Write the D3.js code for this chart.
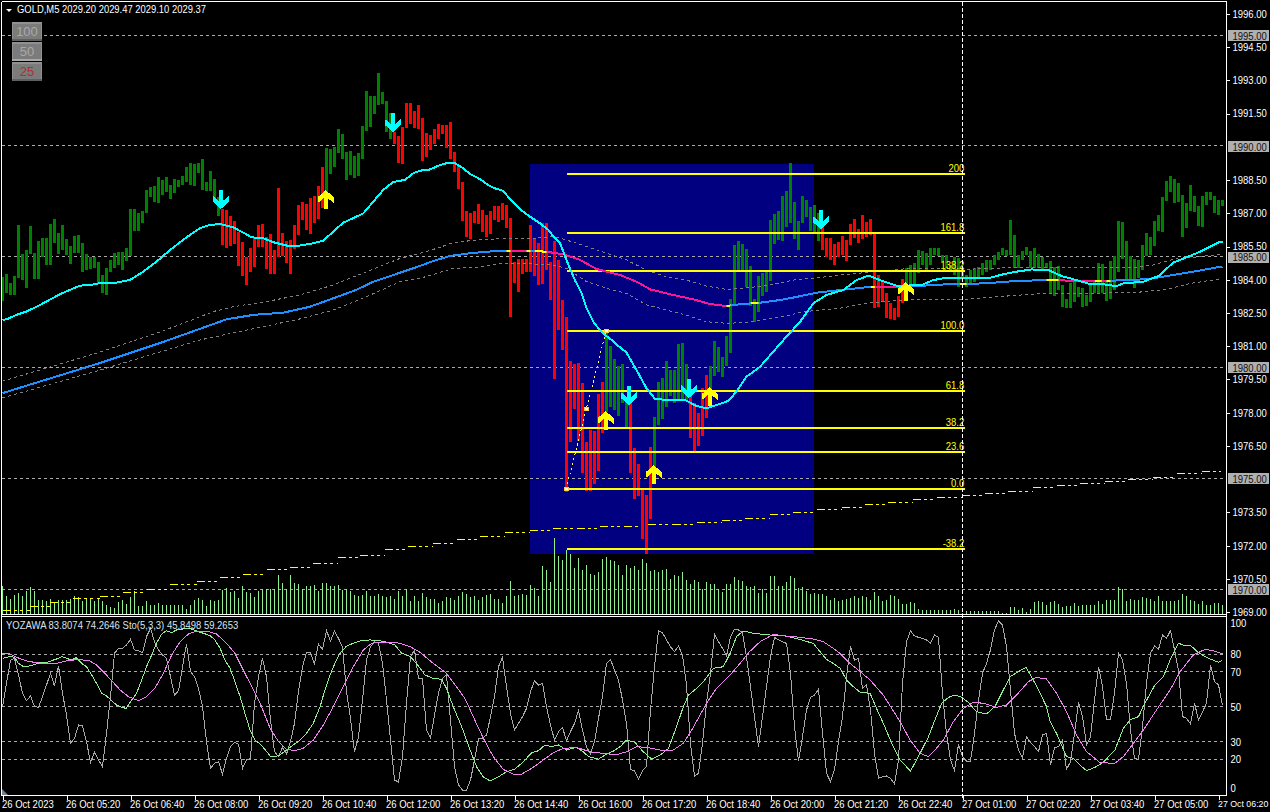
<!DOCTYPE html>
<html><head><meta charset="utf-8"><title>GOLD,M5</title>
<script src="https://cdn.jsdelivr.net/npm/d3@7"></script>
<style>html,body{margin:0;padding:0;background:#000;overflow:hidden}svg{display:block}text{font-family:"Liberation Sans",Arial,sans-serif;font-size:9.5px}</style>
</head><body><svg id="c" width="1270" height="812"></svg>
<script>
// ---------- DATA (prices, bar indices, oscillator values) ----------
const title = "GOLD,M5  2029.20 2029.47 2029.10 2029.37";
const subTitle = "YOZAWA 83.8074 74.2646  Sto(5,3,3) 45.8498 59.2653";
const buttons = ["100","50","25"];
const priceTicks = [1996,1995,1994.5,1993,1991.5,1990,1988.5,1987,1985.5,1985,1984,1982.5,1981,1980,1979.5,1978,1976.5,1975,1973.5,1972,1970.5,1970,1969];
const priceGrid = [1995,1990,1985,1980,1975,1970];
const oscTicks = [100,80,70,50,30,20,0];
const oscGrid = [80,70,50,30,20];
const timeTickBars = [0,16,32,48,64,80,96,112,128,144,160,176,192,208,224,240,256,272,288,304];
const timeTickLabels = ["26 Oct 2023","26 Oct 05:20","26 Oct 06:40","26 Oct 08:00","26 Oct 09:20","26 Oct 10:40","26 Oct 12:00","26 Oct 13:20","26 Oct 14:40","26 Oct 16:00","26 Oct 17:20","26 Oct 18:40","26 Oct 20:00","26 Oct 21:20","26 Oct 22:40","27 Oct 01:00","27 Oct 02:20","27 Oct 03:40","27 Oct 05:00","27 Oct 06:20"];
const crosshairBar = 240;
const bearRanges = [[55,80],[98,150],[157,162],[172,176],[205,225]];
// [high, low] per bar
const barHighLow = [[1984.07,1983.01],[1984.22,1983.34],[1983.83,1983.27],[1984.13,1983.27],[1986.43,1984.02],[1985.12,1983.95],[1985.30,1983.60],[1986.38,1985.12],[1985.15,1984.01],[1985.72,1984.01],
[1985.84,1985.00],[1985.84,1984.62],[1986.47,1984.62],[1986.70,1985.60],[1986.08,1985.12],[1986.43,1985.30],[1985.81,1985.07],[1985.48,1984.67],[1985.93,1985.15],[1985.98,1985.15],
[1985.60,1984.32],[1985.12,1984.40],[1984.97,1984.43],[1984.97,1984.47],[1984.76,1983.80],[1984.17,1983.37],[1984.49,1983.27],[1984.85,1984.32],[1985.18,1984.49],[1985.21,1984.62],
[1985.21,1984.40],[1985.39,1984.82],[1987.15,1985.03],[1987.15,1986.17],[1986.95,1986.17],[1987.07,1986.53],[1988.01,1986.95],[1988.16,1987.68],[1988.19,1987.47],[1988.61,1987.44],
[1988.46,1987.78],[1988.61,1987.93],[1988.23,1987.60],[1988.50,1987.86],[1988.46,1988.13],[1988.64,1988.23],[1989.06,1988.38],[1989.24,1988.23],[1989.18,1988.19],[1989.24,1988.79],
[1989.39,1988.01],[1988.38,1987.98],[1988.88,1987.98],[1988.50,1987.56],[1987.71,1986.83],[1987.13,1985.53],[1987.10,1985.41],[1986.83,1985.48],[1986.62,1985.57],[1986.13,1984.59],
[1985.66,1984.14],[1984.97,1983.72],[1985.38,1984.32],[1985.87,1984.55],[1986.43,1985.45],[1986.47,1985.45],[1985.90,1984.44],[1986.02,1984.22],[1985.30,1984.22],[1988.10,1985.00],
[1986.05,1985.03],[1985.72,1984.73],[1985.75,1984.22],[1986.43,1985.36],[1987.33,1985.98],[1987.48,1986.65],[1987.38,1986.20],[1987.63,1986.02],[1987.74,1986.53],[1988.19,1986.70],
[1989.06,1987.18],[1989.92,1987.93],[1989.86,1988.73],[1989.96,1989.06],[1990.74,1989.69],[1990.53,1989.39],[1989.72,1988.46],[1989.77,1988.70],[1989.54,1988.55],[1989.66,1988.64],
[1990.89,1989.42],[1992.49,1990.68],[1992.25,1990.86],[1992.25,1991.44],[1993.27,1991.84],[1992.43,1991.89],[1992.01,1990.64],[1991.47,1990.31],[1990.64,1990.08],[1990.44,1989.21],
[1990.86,1989.18],[1991.92,1990.82],[1991.92,1990.99],[1991.56,1990.79],[1991.83,1990.74],[1991.25,1989.31],[1990.59,1989.49],[1990.49,1989.81],[1990.76,1990.08],[1990.98,1990.31],
[1990.94,1990.53],[1990.94,1989.91],[1991.07,1989.40],[1989.72,1988.82],[1989.09,1988.05],[1988.37,1986.61],[1987.06,1985.88],[1986.97,1985.79],[1987.06,1986.52],[1987.37,1986.47],
[1987.10,1986.11],[1986.88,1985.88],[1987.06,1986.02],[1987.28,1986.65],[1987.28,1986.56],[1987.42,1986.65],[1987.33,1986.29],[1986.74,1982.27],[1984.76,1983.81],[1984.89,1983.40],
[1984.89,1984.21],[1984.89,1984.30],[1986.43,1984.30],[1985.84,1984.12],[1985.61,1983.72],[1986.52,1983.76],[1986.52,1984.39],[1984.76,1983.04],[1985.70,1979.48],[1984.85,1981.69],
[1983.04,1980.79],[1982.27,1974.39],[1980.29,1976.64],[1980.15,1978.12],[1980.20,1976.70],[1979.30,1975.24],[1976.64,1974.42],[1977.18,1974.42],[1977.13,1974.74],[1978.80,1975.33],
[1979.34,1977.04],[1981.60,1978.00],[1980.97,1978.23],[1980.38,1978.08],[1980.06,1977.81],[1980.15,1978.38],[1978.53,1977.31],[1978.38,1975.24],[1976.36,1974.06],[1975.64,1974.20],
[1974.47,1972.26],[1974.24,1971.58],[1976.41,1973.16],[1977.76,1974.77],[1979.34,1977.40],[1979.52,1977.67],[1980.29,1978.21],[1979.88,1978.71],[1979.88,1978.38],[1981.06,1978.56],
[1981.10,1978.53],[1980.15,1978.53],[1978.76,1976.82],[1978.38,1976.23],[1977.94,1976.45],[1979.07,1976.91],[1979.66,1977.72],[1980.06,1978.68],[1981.19,1979.61],[1980.92,1979.79],
[1980.47,1979.57],[1981.42,1980.06],[1983.09,1980.65],[1985.52,1982.82],[1985.70,1984.39],[1985.57,1984.39],[1985.34,1983.63],[1984.58,1982.77],[1983.09,1982.05],[1984.12,1982.50],
[1984.24,1983.22],[1984.39,1983.40],[1986.65,1983.91],[1986.92,1985.57],[1987.06,1985.75],[1987.73,1985.70],[1987.96,1986.33],[1989.24,1986.52],[1987.46,1985.79],[1986.61,1985.30],
[1987.73,1986.52],[1987.55,1986.79],[1987.24,1986.15],[1987.33,1986.05],[1986.95,1985.70],[1986.43,1985.30],[1985.84,1984.98],[1985.84,1984.85],[1985.57,1984.62],[1985.66,1984.98],
[1985.93,1985.07],[1985.75,1984.82],[1986.47,1985.52],[1986.70,1985.82],[1986.23,1985.60],[1986.88,1985.78],[1986.58,1985.87],[1986.68,1985.97],[1986.12,1982.66],[1984.17,1982.74],
[1983.94,1982.97],[1983.34,1982.21],[1982.89,1982.18],[1982.66,1982.14],[1983.22,1982.29],[1983.97,1982.89],[1984.47,1983.57],[1984.62,1983.72],[1984.70,1983.72],[1985.30,1984.27],
[1985.27,1984.62],[1985.15,1984.39],[1985.39,1984.62],[1985.39,1985.07],[1985.39,1985.03],[1985.07,1984.77],[1985.07,1984.47],[1984.62,1984.39],[1985.00,1984.17],[1984.92,1983.64],
[1984.54,1984.02],[1984.17,1983.61],[1984.39,1983.79],[1984.47,1983.87],[1984.54,1984.06],[1984.73,1984.17],[1984.85,1984.32],[1984.85,1984.39],[1985.07,1984.62],[1985.22,1984.85],
[1985.39,1985.07],[1985.30,1985.03],[1986.65,1985.07],[1985.97,1984.47],[1985.07,1984.47],[1985.27,1984.85],[1985.42,1985.07],[1985.27,1984.47],[1985.39,1984.47],[1985.12,1984.47],
[1985.00,1984.39],[1984.70,1984.47],[1984.82,1983.31],[1984.54,1983.22],[1984.57,1983.49],[1983.72,1982.74],[1983.07,1982.66],[1983.79,1982.66],[1983.87,1982.97],[1983.64,1983.19],
[1983.57,1982.74],[1983.27,1982.79],[1983.76,1982.97],[1983.94,1983.34],[1984.73,1983.34],[1984.67,1983.34],[1983.94,1983.01],[1984.82,1983.07],[1985.03,1983.49],[1986.61,1984.32],
[1986.55,1984.88],[1985.70,1983.94],[1985.03,1983.94],[1984.88,1983.57],[1984.85,1984.02],[1985.52,1984.39],[1986.05,1985.03],[1985.87,1985.07],[1986.61,1985.48],[1986.88,1986.17],
[1987.70,1986.12],[1988.41,1987.52],[1988.64,1987.93],[1988.50,1987.43],[1988.30,1987.48],[1987.78,1985.90],[1987.40,1986.27],[1988.23,1987.06],[1987.73,1987.00],[1987.28,1986.38],
[1987.73,1986.35],[1987.93,1987.33],[1987.93,1987.55],[1987.73,1986.98],[1987.55,1986.88],[1987.55,1987.28]];
const volumes = [85,53,45,58,63,53,68,81,68,43,43,38,45,35,41,41,41,45,55,51,38,45,45,38,45,38,28,21,18,35,41,31,51,68,23,23,38,28,28,33,28,28,28,28,28,28,15,28,41,48,43,23,43,38,43,73,78,65,68,48,85,65,63,51,68,75,75,75,75,118,93,75,118,93,91,75,83,83,88,68,93,93,83,83,88,73,75,68,58,55,58,68,55,53,61,53,51,55,45,68,55,75,38,53,38,
62,52,45,45,32,39,51,47,42,54,66,60,51,54,42,51,57,60,45,45,
33,55,98,55,57,61,58,88,78,53,145,131,95,228,175,163,191,181,139,169,133,148,121,118,125,166,172,163,160,148,118,148,138,145,131,166,153,128,133,126,131,136,106,118,115,125,103,91,103,95,76,95,91,91,76,65,91,91,112,103,100,83,80,83,64,75,64,115,115,83,85,96,115,109,79,81,70,61,63,61,61,55,43,48,40,
43,45,49,55,48,55,51,43,67,55,38,43,58,53,45,30,30,36,33,15,13,13,13,13,11,11,13,11,15,11,3,8,8,8,8,10,8,8,10,8,4,4,21,21,13,17,5,15,35,38,35,28,36,40,30,22,23,25,33,25,28,26,27,26,39,30,43,41,41,81,75,40,45,43,43,51,48,45,38,55,39,39,39,39,43,61,53,43,39,29,39,26,26,33,33,28];
const maFast = [[0,1982.14],[1,1982.17],[3.5,1982.37],[6,1982.52],[8.5,1982.74],[11,1982.97],[14.4,1983.31],[17.3,1983.53],[19.4,1983.69],[21.9,1983.72],[24.4,1983.80],[27.7,1983.80],[31.9,1983.95],[35.2,1984.32],[38.5,1984.77],[41.9,1985.30],[46,1985.87],[49.4,1986.28],[51.9,1986.43],[54.4,1986.47],[57.7,1986.32],[60.2,1986.08],[62.3,1985.87],[65.2,1985.83],[67.7,1985.65],[71,1985.50],[74.4,1985.50],[77.7,1985.60],[80.2,1985.72],[82.7,1986.13],[85.2,1986.53],[90.2,1986.95],[92.7,1987.48],[95.2,1988.01],[97.7,1988.37],[100.6,1988.46],[102.7,1988.76],[104.4,1988.88],[106.5,1988.91],[109.4,1989.13],[111.5,1989.24],[113.1,1989.21],[114.8,1989.03],[116.9,1988.73],[119.4,1988.49],[121.5,1988.22],[123.1,1988.08],[125.2,1987.97],[126.9,1987.58],[129.4,1987.13],[131.9,1986.80],[134.4,1986.50],[136.5,1986.20],[137.7,1985.90],[139.4,1985.60],[140.2,1985.22],[141.5,1984.62],[143.1,1983.94],[144.8,1983.34],[146,1982.67],[147.7,1982.06],[149,1981.76],[150.6,1981.46],[152.3,1981.24],[153.1,1981.09],[156,1980.67],[158.5,1979.88],[161,1979.06],[163.1,1978.58],[166,1978.53],[170.6,1978.53],[173.5,1978.26],[176,1978.15],[178.5,1978.30],[181.5,1978.49],[183.5,1978.91],[186,1979.58],[189.4,1980.03],[192.7,1980.71],[196,1981.39],[199.4,1982.06],[202.7,1982.89],[206,1983.27],[210.2,1983.49],[213.5,1983.94],[216.5,1984.14],[219.4,1983.94],[223.5,1983.69],[226,1983.69],[229.8,1983.72],[232.7,1983.94],[236,1984.05],[241,1984.05],[246.9,1984.05],[250.2,1984.20],[253.5,1984.32],[257.3,1984.42],[261.5,1984.39],[264.8,1984.12],[268.5,1983.94],[271.9,1983.76],[275.2,1983.75],[278.5,1983.67],[280.6,1983.82],[284.8,1983.84],[289,1984.12],[292.7,1984.73],[296,1984.97],[299.4,1985.22],[304.4,1985.67],[305,1985.67]];
const maSlow = [[0,1978.84],[24.4,1980.20],[39.4,1981.10],[56,1982.17],[62.7,1982.37],[70.2,1982.47],[76.9,1982.74],[82.7,1983.12],[88.5,1983.50],[92.7,1983.87],[97.7,1984.17],[104.4,1984.58],[107.7,1984.80],[111.9,1985.03],[116.9,1985.15],[121,1985.22],[126,1985.27],[131,1985.27],[136,1985.22],[140.2,1985.10],[144.4,1984.85],[148.5,1984.44],[154.4,1984.17],[158.5,1983.87],[161.9,1983.52],[166.9,1983.30],[172.7,1983.07],[176.9,1982.86],[181,1982.77],[184.4,1982.85],[189.4,1982.92],[194.4,1983.04],[198.5,1983.18],[203.5,1983.37],[209.4,1983.49],[217.3,1983.64],[223.5,1983.61],[228.5,1983.67],[236.9,1983.76],[245.2,1983.79],[253.5,1983.90],[261,1983.94],[268.5,1983.91],[276,1983.91],[282.7,1983.94],[287.7,1984.02],[292.7,1984.17],[297.7,1984.32],[304.4,1984.54],[305,1984.55]];
const maSlowDownRanges = [[127,131],[136,181],[218.1,224.4],[264,273.1],[274.8,276]];
const maSlowFlatRanges = [[126,127],[131,132],[133.1,136],[181,182],[187.1,189],[217.1,218.1],[239.4,241],[261,264],[273.1,274.8],[276,277]];
const bandUpper = [[0,1979.38],[24.4,1980.69],[39.4,1981.60],[48.5,1982.22],[52.7,1982.52],[57.7,1982.74],[66,1982.97],[74.4,1983.27],[82.7,1983.72],[91,1984.32],[99.4,1984.92],[104.4,1985.15],[108.5,1985.37],[112.7,1985.63],[118.5,1985.75],[126,1985.82],[131.9,1985.82],[137.7,1985.90],[141,1985.75],[146,1985.45],[151,1985.15],[156,1984.85],[161,1984.39],[166,1984.09],[171,1983.94],[176,1983.67],[181,1983.52],[184.4,1983.57],[188.5,1983.64],[192.7,1983.76],[197.7,1983.94],[204.4,1984.06],[209.4,1984.17],[215.2,1984.27],[226.9,1984.47],[240.2,1984.42],[252.7,1984.51],[268.5,1984.51],[282.7,1984.51],[287.7,1984.62],[292.7,1984.88],[299.4,1985.00],[304.4,1985.10]];
const bandLower = [[0,1978.62],[24.4,1979.88],[49.4,1981.24],[75.2,1982.22],[82.7,1982.59],[91,1983.19],[99.4,1983.87],[104.4,1984.02],[108.5,1984.24],[112.7,1984.47],[118.5,1984.52],[123.5,1984.67],[132.7,1984.67],[137.7,1984.62],[141,1984.47],[146,1983.87],[151,1983.57],[156,1983.34],[161,1982.82],[166,1982.59],[171,1982.36],[176,1982.06],[181,1981.99],[185.2,1982.02],[190.2,1982.14],[195.2,1982.29],[200.2,1982.51],[209.4,1982.67],[216,1982.89],[224.4,1983.04],[240.2,1983.07],[257.7,1983.31],[268.5,1983.34],[282.7,1983.37],[291,1983.52],[296.9,1983.79],[304.4,1983.99]];
const maLong = [[0,1969.05],[6.9,1969.23],[11.9,1969.37],[17.6,1969.55],[24.4,1969.68],[30.1,1969.86],[36.1,1970.00],[41.9,1970.22],[48.6,1970.36],[54.4,1970.54],[60.1,1970.67],[66.1,1970.86],[71.9,1970.99],[77.6,1971.17],[83.9,1971.40],[89.4,1971.53],[95.6,1971.76],[101.4,1971.94],[107.6,1972.07],[113.6,1972.25],[119.4,1972.39],[125.6,1972.53],[131.9,1972.65],[137.6,1972.71],[143.6,1972.75],[149.4,1972.80],[155.4,1972.84],[161.4,1972.89],[167.6,1972.93],[173.6,1973.02],[179.9,1973.11],[185.6,1973.20],[191.9,1973.38],[197.6,1973.47],[203.6,1973.61],[209.9,1973.70],[215.6,1973.83],[221.4,1973.92],[227.6,1974.06],[233.6,1974.15],[239.9,1974.24],[245.6,1974.33],[251.4,1974.42],[257.6,1974.56],[263.6,1974.65],[269.4,1974.74],[275.6,1974.83],[281.4,1974.92],[287.6,1975.01],[293.6,1975.19],[299.9,1975.28],[304.6,1975.32]];
const fibLevels = ["200","161.8","138.2","100.0","61.8","38.2","23.6","0.0","-38.2"];
const fibPrices = [1988.74,1986.05,1984.35,1981.64,1978.92,1977.25,1976.20,1974.51,1971.80];
const fibStartBar = 141, fibEndBar = 240.7;
const boxBars = [131.8,202.75], boxPrices = [1989.20,1971.60];
const fibTrendBars = [140.9,145.9,150.9], fibTrendPrices = [1974.51,1978.08,1981.64];
const downArrows = [[54.6,1987.15],[97.6,1990.62],[156.6,1978.30],[171.6,1978.62],[204.6,1986.24]];
const upArrows = [[80.8,1988.00],[150.8,1978.03],[162.8,1975.59],[176.8,1979.11],[225.8,1983.85]];
const stochRaw = [50.1,63.4,76.7,77.7,68.2,57.7,53.5,56.2,50.1,49.7,55.8,62.5,69.1,61.9,73.3,57.7,45.3,29.1,32,39.6,39.2,30.1,18.3,24,19.6,15.8,34.8,55.8,80.6,83.4,83.4,85.3,88.6,82.5,82.1,80.9,90.1,94.8,87.2,82.5,79.6,77.7,67.2,56.7,59.2,72.9,85.9,70.1,67.2,60.6,50.1,30.1,14.8,17.7,18.6,11.6,20.6,27.2,29.7,28.7,14.8,19.6,20.6,52,67.2,77.7,67.2,42.5,24.4,21.5,26.8,23,30.1,40.6,58.7,72.9,80.9,80.9,74.5,85.9,82.8,93.5,87.6,93.3,89.1,84,58.7,43.4,24,32.9,53.9,76.7,84.4,87.2,86.3,74.8,53.9,31,8.2,7,21.5,52,78.7,82.5,66.3,
66.2,36.7,32,45.3,57.7,66.2,68.2,42.4,15.8,5.3,2.4,2.4,8.1,19.6,32,32,33.9,44.3,55.8,72.9,78.2,61.5,46.2,36.7,40.5,44.3,49.1,58.6,64.9,62.4,63.4,50.1,39.6,31,35.8,38.2,30.6,35.8,40.5,47.8,36.7,27.2,23,30.1,43.4,55.8,74.8,77.1,71,65.3,53.9,40.5,14.2,13.3,8.7,13.5,15.8,48.1,72.9,93.5,92.3,88.2,84.3,81.5,84.7,79.6,62.4,29.1,10.4,12,29.1,52,69.1,91.6,87.2,83.4,79,90.1,94.3,93.9,92.3,78.6,61.5,44.3,27.2,44.3,61.5,78.6,89.7,88.2,87.2,86.2,69.1,38.6,19.2,32.9,48.1,55.4,56.7,60,34.8,12,7.2,13.9,30.1,
44.4,67.2,84.4,76.7,77.7,60.6,62.5,48.2,23.4,9.1,10.1,10.5,9.1,5.9,19.6,63.4,87.2,93.3,90.5,89.7,89.1,88.2,86.3,91,89.7,57.7,34.8,19.6,13.5,28.6,21.5,19,19,34.8,53.9,69.1,74.8,82.5,93.9,99,96.8,84.4,59.6,34.8,25.3,20.9,32.9,29.5,27.2,24.4,33.9,34.8,16.7,26.8,27.2,31,14.3,18.6,34.8,52.4,44.4,28.2,32.9,53.9,72.9,61.5,42.8,42.8,57.7,80.9,76.7,63.4,36.7,20.6,20,38.6,63.4,80.6,84.8,82.8,91,89.1,93.5,82.5,71,44.4,43.4,40.2,52,42.5,47.2,52,73.9,64.4,62.5,51];
const stochMain = [[0,77.7],[1,78.3],[2,78.7],[3,78.3],[4,74.8],[5,73.3],[6,72.9],[7.7,73.9],[9.4,75.2],[11,75.2],[12.3,76.4],[13.5,77.3],[14.8,78.7],[16,77.7],[17.3,76.7],[18.4,78.1],[19.8,74.8],[21,72.9],[22.3,68.2],[23.5,63.4],[24.8,57.7],[26,56.2],[27.3,53.5],[28.5,51],[29.8,49.7],[30.9,49.1],[32,52.9],[33.5,57.7],[34.8,65.3],[36,72.9],[37.3,79.6],[38.5,86.3],[39.8,91.6],[41,93.5],[42.3,92.4],[43.5,93.9],[45.2,94.5],[46.9,94.8],[48.5,93.3],[50.2,92],[51.9,90.7],[53.1,88.2],[54.4,83.4],[55.6,76.7],[56.9,72],[58.1,64.4],[59.4,55.8],[60.6,46.3],[61.9,36.7],[63.1,31],[64.4,28.7],[65.6,25.7],[66.9,21.9],[68.1,21.5],[69.4,22.5],[71,25.3],[72.7,28.2],[74.4,31],[76,34.8],[77.7,40.6],[79.4,50.1],[80.6,59.6],[81.9,68.2],[83.1,74.8],[84.4,80.6],[86,84.7],[87.7,86.3],[89.8,88],[91.9,88.2],[93.5,88],[96,87],[98.1,85.3],[99.8,80.6],[101.9,78.7],[103.1,75.8],[104.4,72],[105.6,68.2],[107.7,66.2],[109.8,65.7],[111,60.5],[112.7,50],[114.8,38.6],[116.9,25.3],[118.5,15.8],[120.2,10],[121.9,7.6],[124,10],[126,12.9],[128.1,14.4],[130.2,18.6],[132.3,23.8],[134,24.9],[135.6,28.2],[137.3,27.2],[139,28.2],[141,25.3],[143.5,26.8],[145.2,24.3],[146.5,21.5],[149,20.1],[150.6,22.4],[152.7,24.7],[154.4,27.2],[156,31],[158.1,29.7],[160.2,24.3],[162.3,20.1],[164.4,22.4],[166.5,26.2],[168.5,38.6],[170.2,50],[171.5,56.7],[173.5,60.5],[175.2,64.3],[177.7,72],[180.2,72.9],[181.9,80.5],[183.5,90.1],[185.2,93.3],[187.7,92],[191.9,91],[196,90.4],[199.4,88.5],[202.7,86.2],[204.4,81.5],[206,77.1],[207.7,74.8],[209.4,72],[211,65.3],[212.7,61.5],[214.4,58.3],[216.9,57.7],[218.5,49.1],[220.2,40.6],[222.3,29.1],[224.4,19.6],[227,13.3],[229.4,23.4],[231.5,32.9],[233.1,42.5],[234.8,52],[236.5,55.4],[238.1,56.7],[239.8,55.4],[241.5,52.4],[243.5,47.2],[246,45.9],[248.1,50.1],[250.2,59.6],[251.9,67.2],[254,70.1],[255.9,72.6],[257.7,65.3],[259.4,57.7],[261,50.1],[261.9,41.5],[263.5,34.8],[266,21.5],[267.7,20.6],[269.4,16.7],[271,13.5],[273.1,15.4],[275.2,18.3],[278.1,25.3],[280.2,37.7],[281.9,42.5],[284,44.4],[285.6,52],[288.1,62.5],[290.2,67.2],[291.9,76.7],[294,86.3],[295.2,85.3],[296.9,85.3],[299,80.9],[301.5,77.7],[304,75.4],[305,76.8]];
const stochSignal = [[0,80.6],[1.9,80.2],[3.5,78.3],[6,76.2],[8.5,75.2],[11,74.6],[13.5,74.8],[16,76.2],[18.5,76.9],[21.5,76.6],[23.5,73.9],[25.2,70.1],[27.3,64.9],[29.4,59.6],[31.5,55.8],[34,53.5],[36,55.8],[38.1,60.6],[40.2,69.1],[42.3,79.6],[44.4,87.2],[46.5,91.6],[48.5,93.3],[51,93.3],[53.5,91.6],[56,86.3],[58.1,80.6],[60.2,71],[62.3,61.5],[64.4,52],[66.9,37.7],[69,30.1],[71,25.7],[73.1,24.9],[75.2,26.3],[77.7,31],[80.2,39.6],[82.7,50.1],[85.2,61.5],[87.7,72.9],[90.2,82.5],[92.3,86.3],[94.4,87],[96.9,87],[99.4,86.3],[101.9,84.4],[104.4,81.1],[107.7,74.8],[111,69.1],[113.5,61.5],[115.6,54.8],[117.7,44.3],[120.2,32],[122.7,21.5],[125.2,14.2],[127.7,11.6],[129.8,11.6],[132.3,14.8],[135.2,19.6],[137.7,23.8],[140.2,26.2],[143.5,26.8],[146.9,24.3],[150.2,23.4],[153.5,22.6],[156,24.3],[158.5,27.2],[161,26.8],[164.4,25.3],[167.7,25.3],[170.2,29.1],[172.3,36.7],[174.4,45.3],[176,52],[178.5,60.5],[181.9,68.2],[184.4,74.8],[186.5,80.9],[189.4,87.2],[192.7,91.4],[196,90.4],[199.4,89.7],[202.7,88.7],[205.2,87.2],[207.7,83.4],[209.4,80.5],[211.9,74.8],[214.4,70.1],[216.9,65.3],[220.2,56.7],[222.3,49.1],[224.4,41.5],[226.9,31],[229.4,23.4],[231.5,21.5],[233.1,25.3],[235.2,31],[237.7,41.5],[240.2,49.1],[242.7,52.6],[245.2,52],[248.5,49.7],[251,51],[253.5,56.7],[256.5,64.4],[258.5,66.8],[261,65.9],[263.5,57.7],[266,47.2],[268.5,33.9],[271,24.4],[274.4,18.1],[278.1,17.7],[280.2,21.5],[282.7,29.1],[285.2,36.7],[288.5,48.2],[291.9,59.6],[294.4,70.1],[297.7,79.6],[300.6,82.8],[302.7,82.1],[305,80.2]];

// ---------- SCALES ----------
const svg = d3.select("#c");
const x = d3.scaleLinear().domain([0,305]).range([2.5,1222.5]);
const y = d3.scaleLinear().domain([1995,1970]).range([35,589]);
const yVol = d3.scaleLinear().domain([0,228]).range([614,538]);
const yOsc = d3.scaleLinear().domain([0,100]).range([794.3,619.3]);
svg.append("rect").attr("width",1270).attr("height",812).attr("fill","#000");
const defs = svg.append("defs");
defs.append("clipPath").attr("id","main").append("rect").attr("x",2).attr("y",2).attr("width",1224).attr("height",612);
defs.append("clipPath").attr("id","osc").append("rect").attr("x",2).attr("y",617).attr("width",1224).attr("height",178);
const addRangeClip=(id,ranges)=>{const c=defs.append("clipPath").attr("id",id);
  c.selectAll("rect").data(ranges).join("rect").attr("x",d=>x(d[0])).attr("width",d=>x(d[1])-x(d[0])).attr("y",0).attr("height",812);};
addRangeClip("down",maSlowDownRanges);addRangeClip("flat",maSlowFlatRanges);

// Taller glyphs at the measured width, to match the reference's narrow hinted face
const fit=(sel,size,fixed)=>sel.each(function(){
  const w=fixed||this.getComputedTextLength();
  d3.select(this).style("font-size",size+"px").attr("textLength",w).attr("lengthAdjust","spacingAndGlyphs");});

const main = svg.append("g").attr("clip-path","url(#main)");
const osc = svg.append("g").attr("clip-path","url(#osc)");

// Highlight box
main.append("rect").attr("x",x(boxBars[0])).attr("width",x(boxBars[1])-x(boxBars[0]))
  .attr("y",y(boxPrices[0])).attr("height",y(boxPrices[1])-y(boxPrices[0])).attr("fill","#000080").attr("shape-rendering","crispEdges");
// Grid
main.selectAll("line.g").data(priceGrid).join("line").attr("class","g").attr("x1",2).attr("x2",1226)
  .attr("y1",d=>Math.floor(y(d))+.5).attr("y2",d=>Math.floor(y(d))+.5)
  .attr("stroke","#aaa").attr("stroke-dasharray","3 3").attr("shape-rendering","crispEdges");
// Volumes
main.selectAll("rect.v").data(volumes).join("rect").attr("class","v").attr("x",(d,i)=>Math.floor(x(i))).attr("width",1)
  .attr("y",d=>yVol(d)).attr("height",d=>yVol(0)-yVol(d)).attr("fill","#90ee90").attr("shape-rendering","crispEdges");
// Long MA: one flat dashed step per reading
const lineP = d3.line().x(d=>x(d[0])).y(d=>y(d[1]));
main.selectAll("line.l").data(d3.pairs(maLong)).join("line").attr("class","l")
  .attr("x1",d=>x(d[0][0])).attr("x2",d=>x(d[1][0])).attr("y1",d=>Math.floor(y(d[0][1]))+.5).attr("y2",d=>Math.floor(y(d[0][1]))+.5)
  .attr("stroke","#ffff00").attr("stroke-dasharray","8 3 3 3 3 4").attr("shape-rendering","crispEdges");
// Price bars
const isBear=i=>bearRanges.some(r=>i>=r[0]&&i<=r[1]);
main.selectAll("rect.b").data(barHighLow).join("rect").attr("class","b")
  .attr("x",(d,i)=>Math.floor(x(i))-1).attr("width",3)
  .attr("y",d=>y(d[0])).attr("height",d=>y(d[1])-y(d[0]))
  .attr("fill",(d,i)=>isBear(i)?"#ff0000":"#008000").attr("shape-rendering","crispEdges");
// Bands
[bandUpper,bandLower].forEach(b=>main.append("path").attr("d",lineP(b)).attr("fill","none").attr("stroke","#808080").attr("stroke-width",1)
  .attr("stroke-dasharray","3 3").attr("shape-rendering","crispEdges"));
// Fibonacci
main.selectAll("line.f").data(fibPrices).join("line").attr("class","f").attr("x1",x(fibStartBar)).attr("x2",x(fibEndBar))
  .attr("y1",d=>y(d)).attr("y2",d=>y(d)).attr("stroke","#ffff00").attr("stroke-width",2).attr("shape-rendering","crispEdges");
main.selectAll("text.f").data(fibLevels).join("text").attr("class","f").attr("x",x(fibEndBar)-1).attr("y",(d,i)=>y(fibPrices[i])-2)
  .attr("text-anchor","end").attr("fill","#ffff00").text(d=>d).call(fit,10.5);
// Fib trend
main.append("path").attr("d",d3.line().x(d=>x(d)).y((d,i)=>y(fibTrendPrices[i]))(fibTrendBars)).attr("fill","none")
  .attr("stroke","#ffff60").attr("stroke-dasharray","2 3").attr("shape-rendering","crispEdges");
main.selectAll("rect.m").data(fibTrendBars).join("rect").attr("class","m").attr("x",d=>x(d)-2).attr("y",(d,i)=>y(fibTrendPrices[i])-2)
  .attr("width",4).attr("height",3).attr("fill","#fff").attr("stroke","#ffd040").attr("stroke-width",1).attr("shape-rendering","crispEdges");
// Slow MA
const slow=()=>main.append("path").attr("d",lineP(maSlow)).attr("fill","none").attr("stroke-width",2).attr("shape-rendering","crispEdges");
slow().attr("stroke","#1e90ff");
slow().attr("stroke","#ff1493").attr("clip-path","url(#down)");
slow().attr("stroke","#ffff00").attr("clip-path","url(#flat)");
// Fast MA
main.append("path").attr("d",lineP(maFast)).attr("fill","none").attr("stroke","#00ffff").attr("stroke-width",2).attr("shape-rendering","crispEdges");
// Arrows
const dnArrow="M0,0L8,-7L8,-13L2,-8L2,-19L-2,-19L-2,-8L-8,-13L-8,-7Z";
const upArrow="M0,0L8,7L8,13L2,8L2,19L-2,19L-2,8L-8,13L-8,7Z";
main.selectAll("path.d").data(downArrows).join("path").attr("class","d").attr("d",dnArrow)
  .attr("transform",d=>`translate(${x(d[0])},${y(d[1])})`).attr("fill","#00ffff").attr("shape-rendering","crispEdges");
main.selectAll("path.u").data(upArrows).join("path").attr("class","u").attr("d",upArrow)
  .attr("transform",d=>`translate(${x(d[0])},${y(d[1])})`).attr("fill","#ffff00").attr("shape-rendering","crispEdges");

// Oscillator
osc.selectAll("line.g").data(oscGrid).join("line").attr("class","g").attr("x1",2).attr("x2",1226)
  .attr("y1",d=>Math.floor(yOsc(d))+.5).attr("y2",d=>Math.floor(yOsc(d))+.5)
  .attr("stroke","#aaa").attr("stroke-dasharray","3 3").attr("shape-rendering","crispEdges");
const lineO = d3.line().x(d=>x(d[0])).y(d=>yOsc(d[1]));
osc.append("path").attr("d",lineO(stochRaw.map((v,i)=>[i,v]))).attr("fill","none").attr("stroke","#a9a9a9").attr("stroke-width",1).attr("shape-rendering","crispEdges");
osc.append("path").attr("d",lineO(stochMain)).attr("fill","none").attr("stroke","#90ee90").attr("stroke-width",1).attr("shape-rendering","crispEdges");
osc.append("path").attr("d",lineO(stochSignal)).attr("fill","none").attr("stroke","#ee82ee").attr("stroke-width",1).attr("shape-rendering","crispEdges");

// Frame
const frame=(a,b,c,d)=>svg.append("line").attr("x1",a).attr("y1",b).attr("x2",c).attr("y2",d).attr("stroke","#fff").attr("shape-rendering","crispEdges");
frame(1.5,1.5,1226.5,1.5);frame(1.5,1.5,1.5,795.5);frame(1226.5,1.5,1226.5,795.5);frame(1.5,795.5,1226.5,795.5);
frame(1.5,614.5,1226.5,614.5);frame(1.5,616.5,1226.5,616.5);
// Crosshair
svg.append("line").attr("x1",Math.floor(x(crosshairBar))+.5).attr("x2",Math.floor(x(crosshairBar))+.5).attr("y1",2).attr("y2",800)
  .attr("stroke","#fff").attr("stroke-dasharray","4 2").attr("shape-rendering","crispEdges");

// Price axis
const axP = svg.append("g").attr("transform","translate(1226.5,1)")
  .call(d3.axisRight(y).tickValues(priceTicks).tickFormat(d3.format(".2f")).tickSize(3).tickPadding(3));
axP.select(".domain").remove();
axP.selectAll("line").attr("stroke","#fff").attr("shape-rendering","crispEdges");
axP.selectAll("text").attr("fill","#fff").style("font-size","9.5px").style("font-family",'"Liberation Sans"').call(fit,10.5);
axP.selectAll(".tick").filter(d=>priceGrid.includes(d)).each(function(){
  const t=d3.select(this);t.select("line").remove();
  t.insert("rect","text").attr("x",1.5).attr("y",-6.5).attr("width",41).attr("height",11).attr("fill","#b0b0b0").attr("shape-rendering","crispEdges");
  t.select("text").attr("fill","#111");
});
// Oscillator axis
const axO = svg.append("g").attr("transform","translate(1226.5,0)")
  .call(d3.axisRight(yOsc).tickValues(oscTicks).tickSize(0).tickPadding(4));
axO.select(".domain").remove();
axO.selectAll("text").attr("fill","#fff").style("font-size","9.5px").style("font-family",'"Liberation Sans"').call(fit,10.5);
axO.selectAll(".tick").filter(d=>d===100).select("text").attr("y",4);
axO.selectAll(".tick").filter(d=>d===0).select("text").attr("y",-6);
// Time axis
const axT = svg.append("g").attr("transform","translate(0,795.5)")
  .call(d3.axisBottom(x).tickValues(timeTickBars).tickFormat((d,i)=>timeTickLabels[i]).tickSize(4).tickPadding(1));
axT.select(".domain").remove();
axT.selectAll("line").attr("stroke","#fff").attr("shape-rendering","crispEdges");
axT.selectAll("text").attr("text-anchor","start").attr("x",-1).attr("fill","#fff").style("font-size","9.5px").style("font-family",'"Liberation Sans"')
  .filter(d=>d!==304).call(fit,10.5);
axT.selectAll(".tick").filter(d=>d===304).select("text").style("font-size","8.8px");

// Labels
svg.append("path").attr("d",d3.line()([[6,9],[12,9],[9,12]])+"Z").attr("fill","#fff");
svg.append("text").attr("x",17).attr("y",13).attr("fill","#fff").text(title).call(fit,10.5,189);
svg.append("text").attr("x",6).attr("y",628.5).attr("fill","#d8e4f0").text(subTitle).call(fit,10.5);
svg.append("path").attr("d",d3.line()([[2,789],[2,795],[8,795]])+"Z").attr("fill","#708090");
// Buttons
const btn = svg.selectAll("g.btn").data(buttons).join("g").attr("class","btn").attr("transform",(d,i)=>`translate(12,${22+i*20})`);
btn.append("rect").attr("width",30).attr("height",19).attr("fill","#909090").attr("shape-rendering","crispEdges");
btn.append("rect").attr("x",1).attr("y",2).attr("width",28).attr("height",15).attr("fill","#7b7b7b").attr("shape-rendering","crispEdges");
btn.append("rect").attr("y",17).attr("width",30).attr("height",2).attr("fill",(d,i)=>i==1?"#a8a8a8":"#606060").attr("shape-rendering","crispEdges");
btn.append("text").attr("x",15).attr("y",14).attr("text-anchor","middle").style("font-size","13px")
  .attr("fill",d=>d==="25"?"#b03030":"#a9a9a9").text(d=>d);
</script></body></html>
